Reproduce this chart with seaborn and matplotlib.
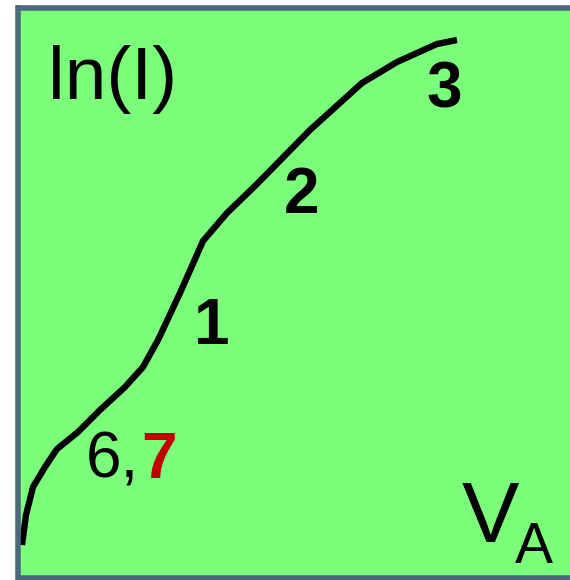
import matplotlib
matplotlib.use("Agg")
import matplotlib.pyplot as plt
import seaborn as sns
import pandas as pd

# curve (V_A across, ln(I) up; pixel-like units)
va = [22, 26, 33, 45, 57, 78, 100, 125, 143, 158, 180, 203, 227, 257, 310, 362, 397, 437, 457]
ln_i = [35, 65, 93, 113, 131, 148, 170, 193, 213, 240, 287, 339, 367, 396, 450, 497, 518, 536, 540]

# region labels and where they sit
region_labels = ["1", "2", "3"]
region_x = [212, 302, 444]
region_y = [236, 367, 473]

df = pd.DataFrame({"va": va, "ln_i": ln_i})

sns.set_theme(style="white")
plt.rcParams['font.family'] = ['Liberation Sans', 'DejaVu Sans']

fig = plt.figure(figsize=(5.7, 5.8), dpi=100)
ax = fig.add_axes([18.5 / 570, 2.5 / 580, 551.5 / 570, 570 / 580])
ax.set_facecolor('#7bff7b')

sns.lineplot(data=df, x="va", y="ln_i", sort=False, estimator=None,
             color='black', linewidth=4.6, ax=ax)
ax.lines[0].set_solid_capstyle('butt')

ax.set_xlim(18.5, 570)
ax.set_ylim(2.5, 572.5)
ax.set_xticks([])
ax.set_yticks([])
ax.set_xlabel('')
ax.set_ylabel('')
for side in ['left', 'top', 'bottom']:
    ax.spines[side].set_color('#4a6a7c')
    ax.spines[side].set_linewidth(4.0)
ax.spines['right'].set_visible(False)

# axis names inside the box
ax.text(48, 481, 'ln(I)', fontsize=54, ha='left', va='baseline', color='black')
ax.text(490, 38, 'V', fontsize=62, ha='center', va='baseline', color='black')
ax.text(534, 17, 'A', fontsize=41, ha='center', va='baseline', color='black')

for lab, x, y in zip(region_labels, region_x, region_y):
    ax.text(x, y, lab, fontsize=46, fontweight='bold', ha='center', va='baseline', color='black')

ax.text(86, 102, '6,', fontsize=46, ha='left', va='baseline', color='black')
ax.text(159, 102, '7', fontsize=46, fontweight='bold', ha='center', va='baseline', color='#c00000')

fig.savefig('out.png', dpi=100)
